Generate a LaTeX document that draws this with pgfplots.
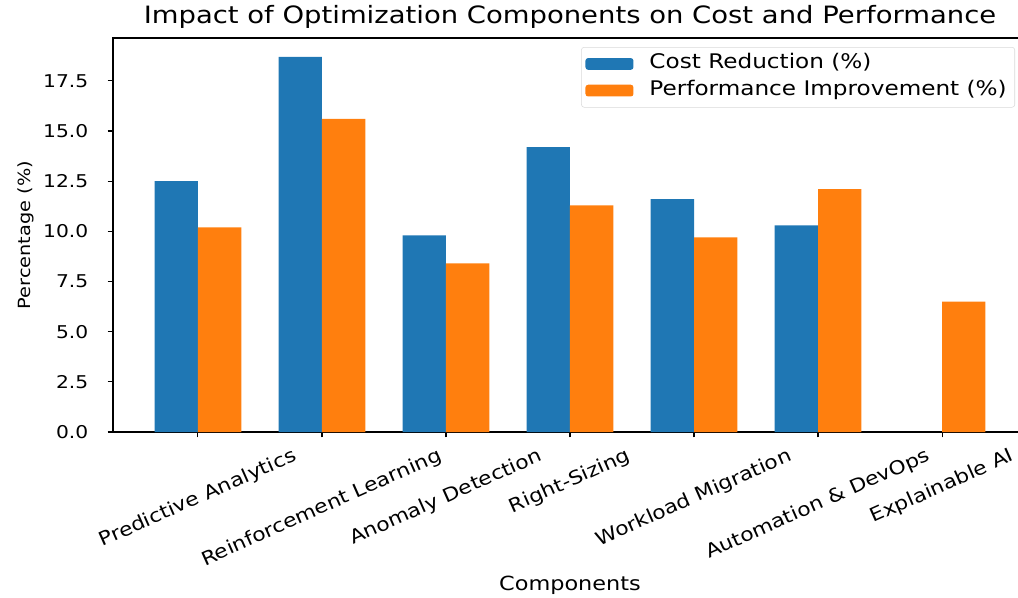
\documentclass[border=0pt]{standalone}
\usepackage{fontspec}
\setmainfont{DejaVu Sans}[FakeStretch=1.15]
\usepackage{pgfplots}
\pgfplotsset{compat=1.18}
\definecolor{tabblue}{HTML}{1F77B4}
\definecolor{taborange}{HTML}{FF7F0E}

\begin{document}
\begin{tikzpicture}
\useasboundingbox (0,0) rectangle (763.5pt,-447.75pt);
\clip (0,0) rectangle (763.5pt,-447.75pt);
\begin{axis}[
    at={(84.75pt,-324pt)}, anchor=south west,
    scale only axis, width=685.5pt, height=295.5pt,
    xmin=-0.685, xmax=6.685, ymin=0, ymax=19.635,
    ybar=0pt, bar width=0.35,
    axis line style={line width=0.8pt},
    tick style={black, line width=0.8pt},
    tick align=outside, major tick length=4pt,
    xtick pos=bottom, ytick pos=left,
    xtick={0,...,6},
    xticklabels={
        \rotatebox{24}{Predictive Analytics},
        \rotatebox{24}{Reinforcement Learning},
        \rotatebox{24}{Anomaly Detection},
        \rotatebox{24}{Right-Sizing},
        \rotatebox{24}{Workload Migration},
        \rotatebox{24}{Automation \& DevOps},
        \rotatebox{24}{Explainable AI}},
    ytick={0,2.5,5,7.5,10,12.5,15,17.5},
    y tick label style={/pgf/number format/fixed, /pgf/number format/fixed zerofill,
        /pgf/number format/precision=1, /pgf/number format/assume math mode=true,
        font=\fontsize{13.2}{15}\selectfont, xshift=-11pt},
    x tick label style={font=\fontsize{14.2}{16}\selectfont, anchor=north, inner sep=2pt, yshift=-5pt},
    title={Impact of Optimization Components on Cost and Performance},
    title style={font=\fontsize{17.9}{20}\selectfont, anchor=base, at={(axis description cs:0.5,1)}, yshift=5pt},
    xlabel={Components},
    xlabel style={font=\fontsize{14.6}{16}\selectfont, at={(axis description cs:0.5,0)}, anchor=center, yshift=-114.75pt},
    ylabel={Percentage (\%)},
    ylabel style={font=\fontsize{12.6}{15}\selectfont, at={(axis description cs:-0.095,0.5)}, anchor=center},
    legend cell align=left,
    legend image code/.code={\fill[#1] (0pt,-4.4pt) rectangle (36pt,4.4pt); \path (45pt,0pt);},
    legend style={at={(axis description cs:1,1)}, anchor=north east, xshift=-9pt, yshift=-6.75pt,
        draw=black!15, rounded corners=2pt, font=\fontsize{15.1}{17}\selectfont,
        nodes={text height=10.8pt, text depth=3.6pt, inner ysep=2.3pt, inner xsep=3pt},
        row sep=1pt, inner xsep=3pt, inner ysep=3pt},
]
\addplot[fill=tabblue, draw=none, bar shift=-0.175] coordinates {
    (0,12.5) (1,18.7) (2,9.8) (3,14.2) (4,11.6) (5,10.3)
};
\addlegendentry{Cost Reduction (\%)}
\addplot[fill=taborange, draw=none, bar shift=0.175] coordinates {
    (0,10.2) (1,15.6) (2,8.4) (3,11.3) (4,9.7) (5,12.1) (6,6.5)
};
\addlegendentry{Performance Improvement (\%)}
\end{axis}
\end{tikzpicture}
\end{document}
